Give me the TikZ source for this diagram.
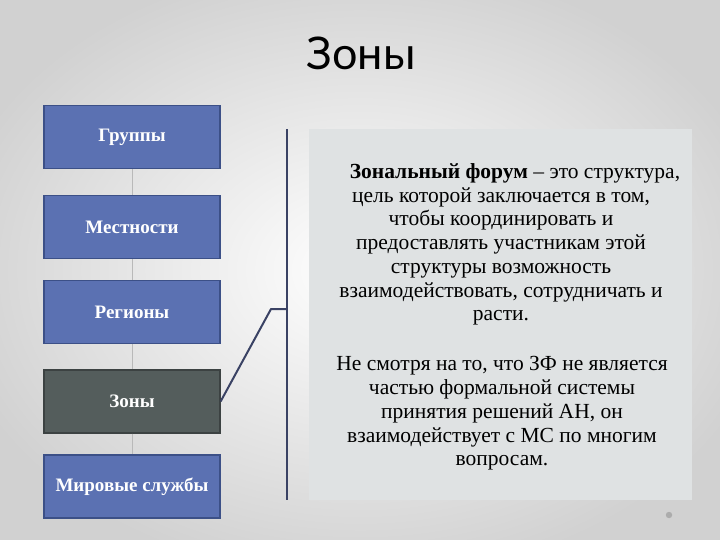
\documentclass[tikz,border=0pt]{standalone}
\usepackage{fontspec}
\setmainfont{Liberation Serif}
\newfontfamily\titlefont{Lato}
\definecolor{boxblue}{RGB}{91,113,178}
\definecolor{boxedge}{RGB}{60,80,135}
\definecolor{zonefill}{RGB}{84,93,92}
\definecolor{zoneedge}{RGB}{60,66,66}
\definecolor{panelgray}{RGB}{223,226,227}
\definecolor{bracketcol}{RGB}{58,66,100}

\begin{document}
\begin{tikzpicture}[x=1pt, y=-1pt,
    level/.style={draw=boxedge, line width=1.2pt, fill=boxblue, text=white,
      minimum width=176pt, minimum height=63pt, font=\fontsize{19}{22}\selectfont\bfseries},
    link/.style={draw=gray!55, line width=0.8pt},
    bracket/.style={draw=bracketcol, line width=2pt},
    para/.style={align=center, font=\fontsize{21.5}{23.7}\selectfont}]
  \useasboundingbox (0,0) rectangle (720,540);
  \shade[inner color=white, outer color=black!18] (-60,-40) rectangle (780,580);
  \node[font=\titlefont\fontsize{45}{50}\selectfont] at (361,53) (title) {Зоны};

  % levels
  \node[level] at (132,137) (groups) {Группы};
  \node[level] at (132,227) (places) {Местности};
  \node[level] at (132,312) (regions) {Регионы};
  \node[level, fill=zonefill, draw=zoneedge] at (132,401.5) (zones) {Зоны};
  \node[level] at (132,486.5) (world) {Мировые службы};

  \draw[link] (groups) -- (places);
  \draw[link] (places) -- (regions);
  \draw[link] (regions) -- (zones);
  \draw[link] (zones) -- (world);

  % text panel
  \fill[panelgray] (309,129) rectangle (692,500);
  \node[para] at (501,244.5) (forum) {\hspace*{1.3em}\textbf{Зональный форум} – это структура,\\
    цель которой заключается в том,\\ чтобы координировать и\\
    предоставлять участникам этой\\ структуры возможность\\
    взаимодействовать, сотрудничать и\\ расти.};
  \node[para] at (502,413.5) (relation) {Не смотря на то, что ЗФ не является\\
    частью формальной системы\\ принятия решений АН, он\\
    взаимодействует с МС по многим\\ вопросам.};

  % bracket
  \coordinate (btop) at (287,129);
  \coordinate (bbot) at (287,500);
  \coordinate (tick) at (287,309);
  \coordinate (knee) at (271,309);
  \draw[bracket] (btop) -- (bbot);
  \draw[bracket, line join=round] (zones.east) -- (knee) -- (tick);

  \fill[gray!65] (669,515) circle (3.2);
\end{tikzpicture}
\end{document}
